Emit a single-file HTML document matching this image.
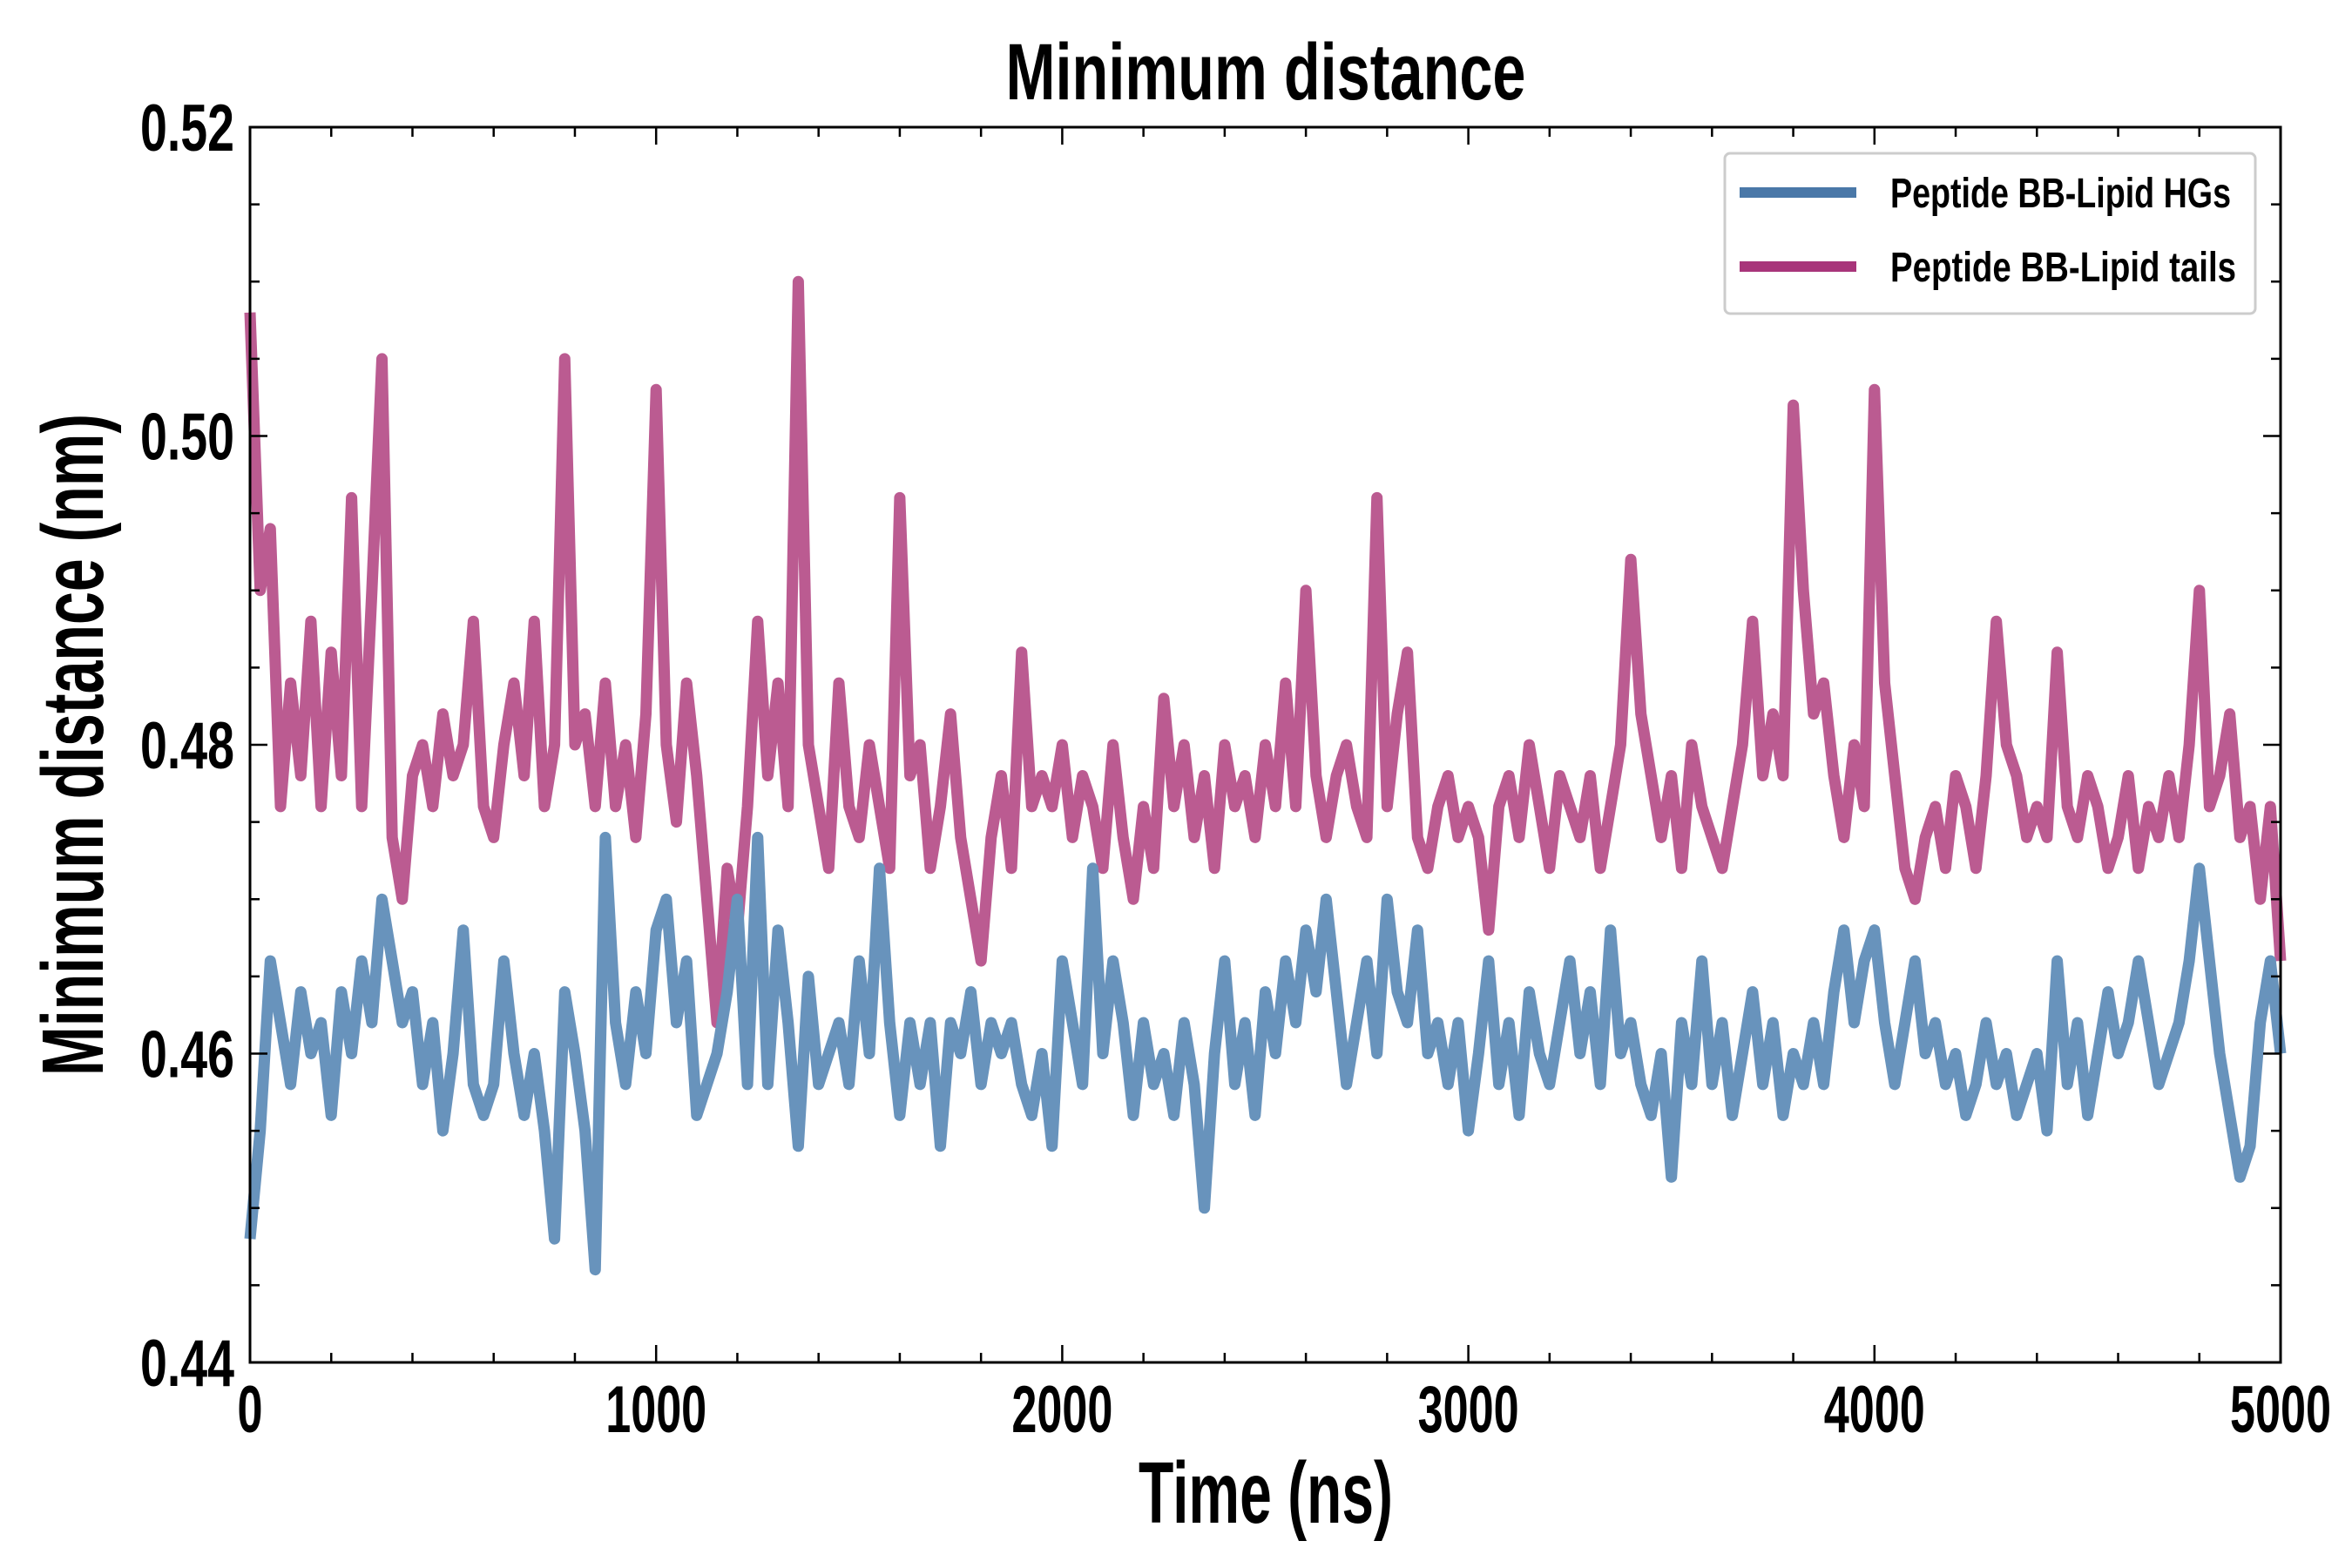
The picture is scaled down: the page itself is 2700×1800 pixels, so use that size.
<!DOCTYPE html>
<html><head><meta charset="utf-8">
<style>
html,body{margin:0;padding:0;background:#fff;}
svg{display:block;}
text{font-family:"Liberation Sans Narrow","Liberation Sans",sans-serif;font-weight:bold;fill:#000;}
</style></head>
<body>
<svg id="chart" width="2700" height="1800" viewBox="0 0 2700 1800" xmlns="http://www.w3.org/2000/svg">
<text x="1453" y="114" font-size="92" text-anchor="middle" textLength="597" lengthAdjust="spacingAndGlyphs">Minimum distance</text>
<text x="1453" y="1748" font-size="100" text-anchor="middle" textLength="292" lengthAdjust="spacingAndGlyphs">Time (ns)</text>
<text transform="translate(118,855) rotate(-90)" font-size="100" text-anchor="middle" textLength="760" lengthAdjust="spacingAndGlyphs">Minimum distance (nm)</text>
<g id="plot"></g>
<g id="axes"></g>
<g id="legend">
<rect x="1980" y="176" width="609" height="184" rx="6" fill="#fff" stroke="#ccc" stroke-width="3"/>
<line x1="1997" y1="221" x2="2131" y2="221" stroke="#4a78a8" stroke-width="12"/>
<text x="2170" y="238" font-size="48" textLength="391" lengthAdjust="spacingAndGlyphs">Peptide BB-Lipid HGs</text>
<line x1="1997" y1="306" x2="2131" y2="306" stroke="#a8357a" stroke-width="12"/>
<text x="2170" y="323" font-size="48" textLength="397" lengthAdjust="spacingAndGlyphs">Peptide BB-Lipid tails</text>
</g>
</svg>
<script>
const timeStep = 25;
const xTicks = [0,1000,2000,3000,4000,5000];
const yTicks = [0.44,0.46,0.48,0.50,0.52];
const yTickLabels = ["0.44","0.46","0.48","0.50","0.52"];
const hgValues = [0.448,0.455,0.466,0.462,0.458,0.464,0.46,0.462,0.456,0.464,0.46,0.466,0.462,0.47,0.466,0.462,0.464,0.458,0.462,0.455,0.46,0.468,0.458,0.456,0.458,0.466,0.46,0.456,0.46,0.455,0.448,0.464,0.46,0.455,0.446,0.474,0.462,0.458,0.464,0.46,0.468,0.47,0.462,0.466,0.456,0.458,0.46,0.464,0.47,0.458,0.474,0.458,0.468,0.462,0.454,0.465,0.458,0.46,0.462,0.458,0.466,0.46,0.472,0.462,0.456,0.462,0.458,0.462,0.454,0.462,0.46,0.464,0.458,0.462,0.46,0.462,0.458,0.456,0.46,0.454,0.466,0.462,0.458,0.472,0.46,0.466,0.462,0.456,0.462,0.458,0.46,0.456,0.462,0.458,0.45,0.46,0.466,0.458,0.462,0.456,0.464,0.46,0.466,0.462,0.468,0.464,0.47,0.464,0.458,0.462,0.466,0.46,0.47,0.464,0.462,0.468,0.46,0.462,0.458,0.462,0.455,0.46,0.466,0.458,0.462,0.456,0.464,0.46,0.458,0.462,0.466,0.46,0.464,0.458,0.468,0.46,0.462,0.458,0.456,0.46,0.452,0.462,0.458,0.466,0.458,0.462,0.456,0.46,0.464,0.458,0.462,0.456,0.46,0.458,0.462,0.458,0.464,0.468,0.462,0.466,0.468,0.462,0.458,0.462,0.466,0.46,0.462,0.458,0.46,0.456,0.458,0.462,0.458,0.46,0.456,0.458,0.46,0.455,0.466,0.458,0.462,0.456,0.46,0.464,0.46,0.462,0.466,0.462,0.458,0.46,0.462,0.466,0.472,0.466,0.46,0.456,0.452,0.454,0.462,0.466,0.46];
const tailValues = [0.508,0.49,0.494,0.476,0.484,0.478,0.488,0.476,0.486,0.478,0.496,0.476,0.49,0.505,0.474,0.47,0.478,0.48,0.476,0.482,0.478,0.48,0.488,0.476,0.474,0.48,0.484,0.478,0.488,0.476,0.48,0.505,0.48,0.482,0.476,0.484,0.476,0.48,0.474,0.482,0.503,0.48,0.475,0.484,0.478,0.47,0.462,0.472,0.468,0.476,0.488,0.478,0.484,0.476,0.51,0.48,0.476,0.472,0.484,0.476,0.474,0.48,0.476,0.472,0.496,0.478,0.48,0.472,0.476,0.482,0.474,0.47,0.466,0.474,0.478,0.472,0.486,0.476,0.478,0.476,0.48,0.474,0.478,0.476,0.472,0.48,0.474,0.47,0.476,0.472,0.483,0.476,0.48,0.474,0.478,0.472,0.48,0.476,0.478,0.474,0.48,0.476,0.484,0.476,0.49,0.478,0.474,0.478,0.48,0.476,0.474,0.496,0.476,0.482,0.486,0.474,0.472,0.476,0.478,0.474,0.476,0.474,0.468,0.476,0.478,0.474,0.48,0.476,0.472,0.478,0.476,0.474,0.478,0.472,0.476,0.48,0.492,0.482,0.478,0.474,0.478,0.472,0.48,0.476,0.474,0.472,0.476,0.48,0.488,0.478,0.482,0.478,0.502,0.49,0.482,0.484,0.478,0.474,0.48,0.476,0.503,0.484,0.478,0.472,0.47,0.474,0.476,0.472,0.478,0.476,0.472,0.478,0.488,0.48,0.478,0.474,0.476,0.474,0.486,0.476,0.474,0.478,0.476,0.472,0.474,0.478,0.472,0.476,0.474,0.478,0.474,0.48,0.49,0.476,0.478,0.482,0.474,0.476,0.47,0.476,0.466];

const L=287,R=2618,T=146,B=1564,X0=0,X1=5000,Y0=0.44,Y1=0.52;
const sx=v=>L+(v-X0)/(X1-X0)*(R-L);
const sy=v=>B-(v-Y0)/(Y1-Y0)*(B-T);
const NS='http://www.w3.org/2000/svg';
const plot=document.getElementById('plot'), axes=document.getElementById('axes');
function mk(tag,attrs,parent){const e=document.createElementNS(NS,tag);for(const k in attrs)e.setAttribute(k,attrs[k]);parent.appendChild(e);return e;}

function series(vals,color,name){
  const d=vals.map((v,i)=>(i?'L':'M')+sx(i*timeStep).toFixed(1)+','+sy(v).toFixed(1)).join(' ');
  const p=mk('path',{d:d,fill:'none',stroke:color,'stroke-width':13,'stroke-linejoin':'round'},plot);
  
  
}
series(tailValues,'#bb5b91','series-lipid-tails');
series(hgValues,'#6893bc','series-lipid-hgs');

const frame=mk('rect',{x:L,y:T,width:R-L,height:B-T,fill:'none',stroke:'#000','stroke-width':3},axes);



for(let v=0;v<=5000;v+=200){
  const x=sx(v), major=v%1000===0, len=major?20:11;
  const t1=mk('line',{x1:x,y1:B,x2:x,y2:B-len,stroke:'#000','stroke-width':2.5},axes);
  
  
  const t2=mk('line',{x1:x,y1:T,x2:x,y2:T+len,stroke:'#000','stroke-width':2.5},axes);
  
  
}
xTicks.forEach(v=>{
  const s=String(v);
  const t=mk('text',{x:sx(v),y:B+80,'font-size':76,'text-anchor':'middle',textLength:s.length*29,lengthAdjust:'spacingAndGlyphs'},axes);
  t.textContent=s;
  
  
});
for(let k=0;k<=16;k++){
  const v=Y0+k*0.005, y=sy(v), major=k%4===0, len=major?20:11;
  const t1=mk('line',{x1:L,y1:y,x2:L+len,y2:y,stroke:'#000','stroke-width':2.5},axes);
  
  
  const t2=mk('line',{x1:R,y1:y,x2:R-len,y2:y,stroke:'#000','stroke-width':2.5},axes);
  
  
}
yTicks.forEach((v,i)=>{
  const t=mk('text',{x:L-18,y:sy(v)+27,'font-size':76,'text-anchor':'end',textLength:108,lengthAdjust:'spacingAndGlyphs'},axes);
  t.textContent=yTickLabels[i];
  
  
});
</script>
</body></html>
